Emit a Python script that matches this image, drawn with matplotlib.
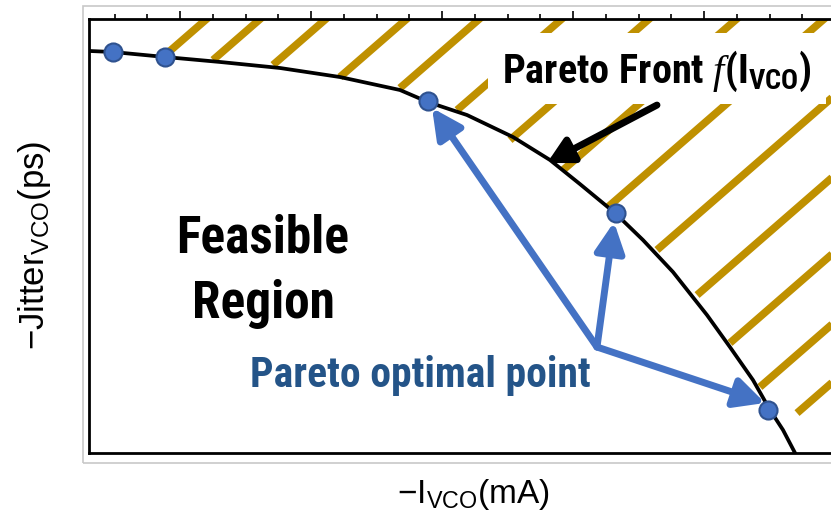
import numpy as np
import matplotlib
matplotlib.use("Agg")
import matplotlib.pyplot as plt
from matplotlib import font_manager
from matplotlib.patches import Rectangle

# schematic values, axis units are arbitrary (major top tick = 1)
front_x = [0.305, 0.489, 0.885, 1.305, 1.763, 2.221, 2.679, 2.893, 3.191, 3.542,
           3.824, 4.053, 4.321, 4.534, 4.763, 5.023, 5.198, 5.374, 5.504, 5.603, 5.695]
front_y = [3.069, 3.061, 3.023, 2.985, 2.939, 2.870, 2.771, 2.679, 2.580, 2.412,
           2.237, 2.053, 1.832, 1.626, 1.382, 1.053, 0.809, 0.557, 0.328, 0.176, 0.0]

pareto_x = [0.489, 0.885, 2.893, 4.328, 5.489]
pareto_y = [3.061, 3.023, 2.687, 1.832, 0.328]

# blue arrows: common tail -> three points on the front
arrow_from = (4.183, 0.809)
arrow_to_x = [2.924, 4.313, 5.466]
arrow_to_y = [2.634, 1.763, 0.382]

# hatch strokes (start points), all with same slope
hatch_x = [0.870, 1.252, 1.710, 2.221, 2.679, 3.115, 3.519, 3.924, 4.267, 4.641, 4.947, 5.198, 5.427, 5.710]
hatch_y = [3.023, 3.000, 2.962, 2.870, 2.786, 2.618, 2.389, 2.160, 1.878, 1.550, 1.206, 0.840, 0.504, 0.305]
hatch_slope = 0.87

# look for a narrow sans (Arial Narrow look); otherwise shrink Liberation Sans
names = {f.name for f in font_manager.fontManager.ttflist}
narrow = None
for cand in ["Liberation Sans Narrow", "Arial Narrow", "Roboto Condensed", "Open Sans Condensed",
             "Noto Sans Condensed", "DejaVu Sans Condensed"]:
    if cand in names:
        narrow = cand
        break
if narrow is None:
    narrow = "Liberation Sans"
    k = 0.84
else:
    k = 1.0

plt.rcParams["font.family"] = ["Liberation Sans", "DejaVu Sans"]
plt.rcParams["mathtext.fontset"] = "custom"
plt.rcParams["mathtext.rm"] = "Liberation Sans"
plt.rcParams["mathtext.bf"] = narrow + ":bold"
plt.rcParams["mathtext.it"] = "Liberation Serif:italic"

BLUE = "#4472C4"
GOLD = "#BF9000"

fig = plt.figure(figsize=(8.31, 5.12), dpi=100)
ax = fig.add_axes([0.1071, 0.1152, 0.9278, 0.8477])
ax.set_xlim(0.3053, 6.1908)
ax.set_ylim(0, 3.313)

# outer light frame
fig.patches.append(Rectangle((0.0999, 0.0957), 1.0, 0.8926, transform=fig.transFigure,
                             fill=False, ec="#c8c8c8", lw=1.2))

# hatched infeasible region
for hx, hy in zip(hatch_x, hatch_y):
    ax.plot([hx, hx + 4], [hy, hy + 4 * hatch_slope], color=GOLD, lw=5.5,
            solid_capstyle="butt", zorder=1)

# white box behind the front label
ax.add_patch(Rectangle((3.351, 2.664), 2.58, 0.542, fc="white", ec="none", zorder=2))

ax.plot(front_x, front_y, color="black", lw=2.7, zorder=3)

for tx, ty in zip(arrow_to_x, arrow_to_y):
    ax.annotate("", xy=(tx, ty), xytext=arrow_from,
                arrowprops=dict(arrowstyle="-|>,head_length=0.9,head_width=0.45", mutation_scale=20,
                                lw=5, color=BLUE, shrinkA=0, shrinkB=0), zorder=4)

ax.annotate("", xy=(3.802, 2.214), xytext=(4.641, 2.656),
            arrowprops=dict(arrowstyle="-|>,head_length=0.75,head_width=0.4", mutation_scale=20,
                            lw=5, color="black", shrinkA=0, shrinkB=0), zorder=4)

ax.plot(pareto_x, pareto_y, "o", ms=13, mfc=BLUE, mec="#2F528F", mew=1.5, zorder=5)

ax.text(3.458, 2.824, r"$\mathbf{Pareto\ Front}\ \mathit{f}\mathbf{(I_{VCO})}$",
        fontsize=29 * k, ha="left", va="baseline", zorder=6)
ax.text(1.634, 1.527, "Feasible", family=narrow, weight="bold", fontsize=37 * k,
        ha="center", va="baseline", zorder=6)
ax.text(1.634, 1.031, "Region", family=narrow, weight="bold", fontsize=37 * k,
        ha="center", va="baseline", zorder=6)
ax.text(2.836, 0.504, "Pareto optimal point", family=narrow, weight="bold", fontsize=30 * k,
        color="#245488", ha="center", va="baseline", zorder=6)

# axes look
for s in ["left", "bottom", "top"]:
    ax.spines[s].set_linewidth(2)
ax.spines["right"].set_visible(False)
ax.set_yticks([])
ax.xaxis.tick_top()
ax.set_xticks(range(1, 7))
ax.xaxis.set_minor_locator(matplotlib.ticker.MultipleLocator(0.25))
ax.tick_params(axis="x", which="both", top=True, bottom=False, labeltop=False,
               labelbottom=False, direction="out", width=1.2)
ax.tick_params(axis="x", which="major", length=6)
ax.tick_params(axis="x", which="minor", length=3.5)

ax.set_xlabel(r"$-\mathrm{I_{VCO}(mA)}$", fontsize=24)
ax.xaxis.set_label_position("bottom")
ax.xaxis.set_label_coords(0.498, -0.055)
ax.set_ylabel(r"$-\mathrm{Jitter_{VCO}(ps)}$", fontsize=25)
ax.yaxis.set_label_coords(-0.047, 0.479)

fig.savefig("out.png", dpi=100)
